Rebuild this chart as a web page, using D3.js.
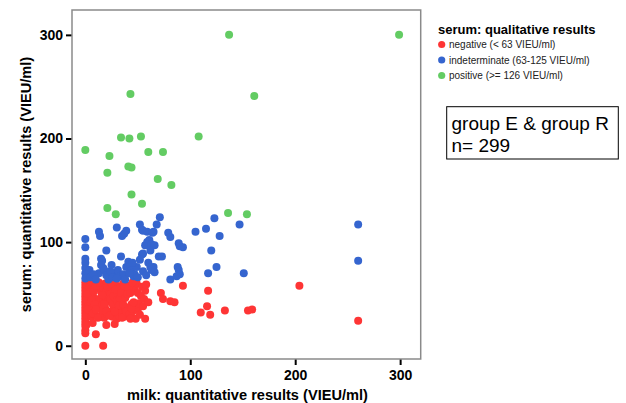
<!DOCTYPE html>
<html>
<head>
<meta charset="utf-8">
<script src="https://cdn.jsdelivr.net/npm/d3@7"></script>
<style>
  body { margin: 0; background: #fff; }
  svg { font-family: "Liberation Sans", Arial, sans-serif; }
</style>
</head>
<body>
<svg width="626" height="403"></svg>
<script>
const width = 626;
const height = 403;

// [milk, serum] in VIEU/ml
const negative = [
  [0,0],[0,12],[0,15],[0,19],[0,22],[0,25],[0,28],[0,31],[0,34],[0,37],[0,40],[0,43],[0,46],[0,49],[0,52],[0,55],[0,58],[0,61],
  [1,20],[1,30],[1,44],[1,53],[1,59],
  [3,38],[4,48],[4,57],[5,33],[5,42],[6,28],[6,53],[7,22],[7,37],[8,46],[8,60],[10,11],[9,30],[9,55],
  [11,40],[13,45],[14,28],[14,58],[15,38],[15,52],[16,32],[17,0],[17,44],[17,56],
  [18,27],[18,48],[19,36],[19,60],[20,20],[20,42],[20,53],
  [21,30],[22,46],[23,57],[24,33],[24,50],[25,43],[26,28],[26,55],[27,36],[27,61],[28,21],[28,47],
  [29,31],[30,52],[30,26],[30,58],
  [31,35],[31,44],[32,29],[32,49],[33,38],[33,56],[34,42],[35,32],[35,52],[36,46],[36,60],[37,28],[37,38],[38,55],
  [38,34],[39,49],[40,30],[40,58],
  [41,37],[42,53],[43,28],[44,40],[44,58],[45,33],[47,37],[47,55],[48,26],[49,60],[50,35],[50,51],
  [51,41],[52,30],[53,48],[54,57],[55,38],[56,45],[57,26],[57,53],[58,59],[60,42],
  [2,35],[2,50],[5,62],[6,44],[7,31],[8,52],[9,40],[10,58],[10,35],[12,27],[13,61],[16,49],
  [17,34],[18,40],[20,33],[21,57],[23,29],[24,45],[25,60],[26,40],[27,48],[28,33],[29,54],[30,44],
  [32,39],[33,46],[34,51],[35,27],[36,40],[37,58],[38,46],[39,33],[40,50],[41,56],[42,31],[43,51],[44,36],[45,61],[46,42],
  [43,26],
  [72,51],[74,45],[81,43],[85,42],[93,58],[117,53],[110,32],[116,38],[119,30],[133,34],[155,34],[159,35],[204,58],[260,24]
];

const indeterminate = [
  [0,103],[0,95],[0,84],[0,80],[0,75],[0,70],[0,65],[4,73],[13,110],[14,106],[15,84],[16,82],[13,70],[17,75],[18,73],
  [20,92],[22,64],[30,114],[34,86],[35,106],[37,108],[39,111],[28,70],[31,73],[33,67],[36,69],[39,76],[41,81],[43,77],
  [44,73],[46,67],[47,69],[49,76],[52,117],[54,112],[55,111],[59,110],[65,110],[68,117],[71,124],[54,88],[55,89],[52,83],
  [57,97],[59,100],[61,102],[63,98],[66,97],[62,92],[64,109],[62,76],[63,73],[65,76],[66,71],[70,86],[73,86],[79,109],
  [81,105],[81,64],[89,99],[90,96],[93,95],[88,76],[89,73],[90,69],[87,67],[105,110],[115,113],[123,123],[128,106],
  [120,92],[125,76],[117,70],[147,117],[151,70],[260,117],[260,82],
  [5,66],[8,69],[10,64],[20,68],[24,72],[26,66],[30,65],[38,64],[42,70],[45,80],[50,66],[55,72],[58,68],[60,80],[15,78],[25,78]
];

const positive = [
  [137,300],[299,300],[43,243],[161,241],[34,201],[42,200],[53,202],[108,202],[0,189],[23,183],[60,187],[74,187],
  [41,173],[44,172],[21,167],[69,161],[82,155],[44,146],[21,133],[29,127],[54,137],[136,128],[154,127]
];

const groups = [
  { key: "negative", label: "negative (< 63 VIEU/ml)", color: "#fe3535", points: negative },
  { key: "indeterminate", label: "indeterminate (63-125 VIEU/ml)", color: "#3565cf", points: indeterminate },
  { key: "positive", label: "positive (>= 126 VIEU/ml)", color: "#63cc63", points: positive }
];

const xTicks = [0, 100, 200, 300];
const yTicks = [0, 100, 200, 300];

const svg = d3.select("svg");

const x = d3.scaleLinear().domain([-12.7, 319.6]).range([72, 420.7]);
const y = d3.scaleLinear().domain([-12.8, 324]).range([359, 10]);

// axes (ticks only, frame drawn separately)
const xAxis = svg.append("g")
  .attr("transform", "translate(0,359)")
  .call(d3.axisBottom(x).tickValues(xTicks).tickSize(6).tickPadding(5).tickFormat(d3.format("d")));

const yAxis = svg.append("g")
  .attr("transform", "translate(72,0)")
  .call(d3.axisLeft(y).tickValues(yTicks).tickSize(6).tickPadding(3).tickFormat(d3.format("d")));

[xAxis, yAxis].forEach(g => {
  g.select(".domain").remove();
  g.selectAll(".tick line").attr("stroke", "#000").attr("stroke-width", 2);
  g.selectAll(".tick text")
    .attr("fill", "#000")
    .style("font-family", "'Liberation Sans', Arial, sans-serif")
    .style("font-size", "14px")
    .style("font-weight", "bold");
});

// points
groups.forEach(grp => {
  svg.append("g")
    .selectAll("circle")
    .data(grp.points)
    .join("circle")
    .attr("cx", d => x(d[0]))
    .attr("cy", d => y(d[1]))
    .attr("r", 4)
    .attr("fill", grp.color);
});

// frame
svg.append("rect")
  .attr("x", 72)
  .attr("y", 10)
  .attr("width", 348.7)
  .attr("height", 349)
  .attr("fill", "none")
  .attr("stroke", "#8a8a8a")
  .attr("stroke-width", 1.5);

// axis titles
svg.append("text")
  .attr("x", 247.5)
  .attr("y", 400)
  .attr("text-anchor", "middle")
  .style("font-size", "14.6px")
  .style("font-weight", "bold")
  .text("milk: quantitative results (VIEU/ml)");

svg.append("text")
  .attr("transform", "translate(31,184.5) rotate(-90)")
  .attr("text-anchor", "middle")
  .style("font-size", "14.6px")
  .style("font-weight", "bold")
  .text("serum: quantitative results (VIEU/ml)");

// legend
const legend = svg.append("g").attr("transform", "translate(438,34)");
legend.append("text")
  .style("font-size", "13px")
  .style("font-weight", "bold")
  .text("serum: qualitative results");

const item = legend.selectAll(".item")
  .data(groups)
  .join("g")
  .attr("class", "item")
  .attr("transform", (d, i) => `translate(0,${10.5 + i * 15.5})`);

item.append("circle")
  .attr("cx", 3.7)
  .attr("r", 3.6)
  .attr("fill", d => d.color);

item.append("text")
  .attr("x", 11)
  .attr("y", 3.5)
  .style("font-size", "10px")
  .attr("fill", "#222")
  .text(d => d.label);

// annotation box
svg.append("rect")
  .attr("x", 446.7)
  .attr("y", 106.7)
  .attr("width", 171.6)
  .attr("height", 52.3)
  .attr("fill", "#fff")
  .attr("stroke", "#000")
  .attr("stroke-width", 1);

const note = svg.append("text")
  .attr("x", 451.5)
  .style("font-size", "19px");
note.append("tspan").attr("x", 451.5).attr("y", 130).text("group E & group R");
note.append("tspan").attr("x", 451.5).attr("y", 152).text("n= 299");
</script>
</body>
</html>
